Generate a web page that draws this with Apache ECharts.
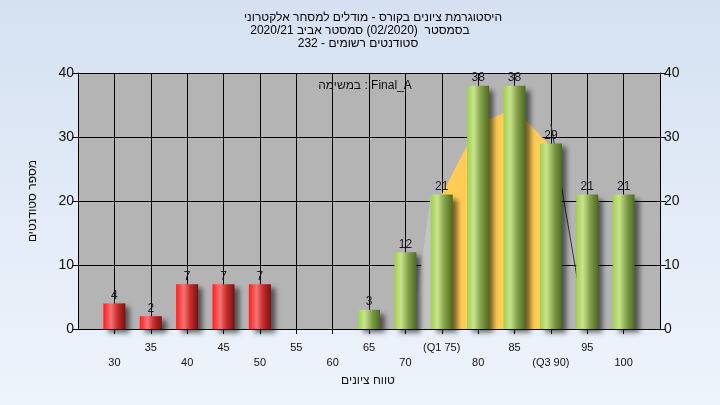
<!DOCTYPE html>
<html>
<head>
<meta charset="utf-8">
<script src="https://cdn.jsdelivr.net/npm/echarts@6/dist/echarts.min.js"></script>
<style>html,body{margin:0;padding:0;}#c{width:720px;height:405px;}</style>
</head>
<body>
<div id="c"></div>
<script>
const grades = [30, 35, 40, 45, 50, 55, 60, 65, 70, 75, 80, 85, 90, 95, 100];
const counts = [4, 2, 7, 7, 7, 0, 0, 3, 12, 21, 38, 38, 29, 21, 21];
const passMark = 55;
const tickLabels = {75: '(Q1 75)', 90: '(Q3 90)'};
const iqrCurve = [[75, 0], [75, 21], [80, 32], [85, 34.5], [90, 28.5], [90, 0]];
const leftTail = [[71, 0], [73.5, 21], [75, 21], [75, 0]];
const rightTail = [[90, 32], [94.8, 0]];
const titleLines = ['היסטוגרמת ציונים בקורס - מודלים למסחר אלקטרוני', 'בסמסטר  (02/2020) סמסטר אביב 2020/21', 'סטודנטים רשומים - 232'];
const legendText = 'במשימה : Final_A';
const xName = 'טווח ציונים';
const yName = 'מספר סטודנטים';

const FONT = 'Liberation Sans, Arial, sans-serif';
const redGrad = new echarts.graphic.LinearGradient(0, 0, 1, 0, [
  {offset: 0, color: '#ff1e1e'}, {offset: 0.35, color: '#f37474'},
  {offset: 0.65, color: '#c82a2a'}, {offset: 1, color: '#7a1212'}]);
const greenGrad = new echarts.graphic.LinearGradient(0, 0, 1, 0, [
  {offset: 0, color: '#a2cf4c'}, {offset: 0.3, color: '#c8e48e'},
  {offset: 0.65, color: '#7f9c45'}, {offset: 1, color: '#4e6a22'}]);

const barData = grades.map((g, i) => ({
  value: [g, counts[i]],
  itemStyle: {color: g < passMark ? redGrad : greenGrad}
})).filter(d => d.value[1] > 0);

const chart = echarts.init(document.getElementById('c'), null, {renderer: 'canvas'});
const axisY = (pos) => ({
  type: 'value', position: pos, min: 0, max: 40, interval: 10,
  axisLine: {show: true, lineStyle: {color: '#000', width: 1}},
  axisTick: {show: true, length: 6, lineStyle: {color: '#000'}},
  axisLabel: {color: '#111', fontSize: 14, fontFamily: FONT, margin: 4},
  splitLine: {show: pos === 'left', lineStyle: {color: '#000', width: 1}}
});
const titleX = [373, 360, 358];
const titleGraphics = titleLines.map((t, i) => ({
  type: 'text', x: titleX[i], y: 18 + i * 13,
  style: {text: t, fontSize: 12, fontFamily: FONT, fill: '#000', align: 'center', verticalAlign: 'middle'}
}));
chart.setOption({
  backgroundColor: new echarts.graphic.LinearGradient(0, 0, 0, 1, [
    {offset: 0, color: '#d5e1f1'}, {offset: 1, color: '#eef4fc'}]),
  animation: false,
  grid: {left: 78, right: 60, top: 73, bottom: 76, show: true, backgroundColor: '#b4b4b4', borderWidth: 0},
  xAxis: {
    type: 'value', min: 25, max: 105, interval: 5,
    axisLine: {show: true, onZero: false, lineStyle: {color: '#000'}},
    axisTick: {show: true, length: 5, lineStyle: {color: '#000'}},
    splitLine: {show: true, lineStyle: {color: '#000', width: 1}},
    axisLabel: {
      color: '#111', fontSize: 11, fontFamily: FONT, margin: 11, lineHeight: 15,
      showMinLabel: false, showMaxLabel: false,
      formatter: v => {
        if (v < 30 || v > 100) return '';
        const t = tickLabels[v] || String(v);
        return (v % 10 === 0) ? '\n' + t : t;
      }
    }
  },
  yAxis: [axisY('left'), axisY('right')],
  graphic: titleGraphics.concat([
    {type: 'text', x: 365, y: 86, style: {text: legendText, fontSize: 12, fontFamily: FONT, fill: '#111', align: 'center', verticalAlign: 'middle'}},
    {type: 'text', x: 368, y: 381, style: {text: xName, fontSize: 12, fontFamily: FONT, fill: '#111', align: 'center', verticalAlign: 'middle'}},
    {type: 'text', x: 33, y: 201, rotation: Math.PI / 2, style: {text: yName, fontSize: 12, fontFamily: FONT, fill: '#111', align: 'center', verticalAlign: 'middle'}}
  ]),
  series: [
    {type: 'line', data: leftTail, symbol: 'none', silent: true, lineStyle: {width: 0}, areaStyle: {color: '#c3c3c3', opacity: 1}, z: 1},
    {type: 'line', data: iqrCurve, symbol: 'none', silent: true, lineStyle: {width: 0}, areaStyle: {color: '#ffcc55', opacity: 1}, z: 1},
    {type: 'line', data: rightTail, symbol: 'none', silent: true, lineStyle: {width: 1, color: '#333'}, z: 1},
    {
      type: 'bar', data: barData, barWidth: 22, z: 3,
      itemStyle: {shadowBlur: 5, shadowOffsetX: 5, shadowOffsetY: 4, shadowColor: 'rgba(0,0,0,0.55)'},
      label: {show: true, position: 'top', distance: 2, color: '#1a1a2a', fontSize: 12, fontFamily: FONT,
        formatter: p => p.value[1] > 0 ? p.value[1] : ''}
    }
  ]
});
</script>
</body>
</html>
